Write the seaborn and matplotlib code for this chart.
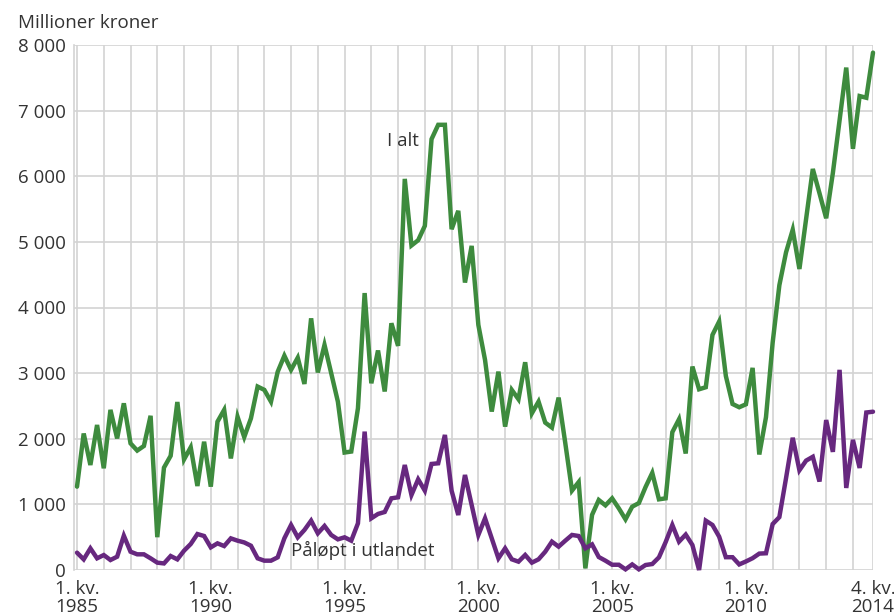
import matplotlib
matplotlib.use("Agg")
import matplotlib.pyplot as plt
import numpy as np
import pandas as pd
import seaborn as sns
from matplotlib.ticker import FixedLocator, FuncFormatter

# Quarterly values 1985 Q1 .. 2014 Q4 (million NOK)
i_alt = [
    1270, 2080, 1600, 2210, 1550, 2440, 2005, 2540, 1930, 1820,
    1890, 2350, 500, 1560, 1740, 2560, 1685, 1870, 1280, 1955,
    1270, 2260, 2440, 1700, 2335, 2025, 2310, 2795, 2745, 2565,
    3020, 3265, 3050, 3235, 2835, 3835, 3010, 3430, 3000, 2565,
    1790, 1805, 2465, 4220, 2845, 3345, 2720, 3760, 3415, 5960,
    4945, 5025, 5244, 6565, 6784, 6784, 5193, 5473, 4380, 4939,
    3735, 3201, 2414, 3023, 2185, 2744, 2602, 3166, 2388, 2566,
    2246, 2170, 2627, 1931, 1210, 1340, 25, 840, 1067, 985,
    1092, 940, 772, 965, 1020, 1265, 1480, 1077, 1092, 2100,
    2297, 1775, 3100, 2754, 2785, 3582, 3786, 2957, 2530, 2480,
    2525, 3080, 1760, 2328, 3466, 4339, 4841, 5185, 4587, 5350,
    6111, 5741, 5360, 6050, 6850, 7656, 6418, 7222, 7196, 7884,
]
palopt = [
    264, 162, 330, 178, 228, 152, 203, 523, 279, 239,
    239, 178, 112, 100, 213, 162, 294, 396, 548, 518,
    345, 406, 365, 482, 447, 420, 370, 178, 142, 142,
    193, 483, 686, 498, 610, 752, 559, 671, 534, 467,
    498, 447, 711, 2109, 788, 854, 884, 1092, 1108, 1600,
    1143, 1382, 1209, 1616, 1626, 2058, 1209, 838, 1448, 991,
    534, 788, 483, 178, 330, 163, 127, 229, 112, 163,
    279, 432, 356, 447, 534, 518, 330, 390, 198, 142,
    80, 80, 10, 85, 10, 76, 91, 193, 425, 686,
    432, 540, 381, 0, 752, 686, 508, 195, 195, 85,
    130, 180, 250, 255, 700, 806, 1400, 2015, 1520, 1667,
    1725, 1348, 2285, 1800, 3050, 1250, 1983, 1555, 2400, 2412,
]
series_names = ["I alt", "Påløpt i utlandet"]
tick_labels = ["1. kv.\n1985", "1. kv.\n1990", "1. kv.\n1995", "1. kv.\n2000",
               "1. kv.\n2005", "1. kv.\n2010", "4. kv.\n2014"]
y_ticks = [0, 1000, 2000, 3000, 4000, 5000, 6000, 7000, 8000]

n = len(i_alt)
quarters = list(range(n))
tick_pos = [0, 20, 40, 60, 80, 100, n - 1]
grid_pos = list(range(0, n, 4)) + [n - 1]

df = pd.DataFrame({
    "kvartal": quarters * 2,
    "verdi": i_alt + palopt,
    "serie": [series_names[0]] * n + [series_names[1]] * n,
})

sns.set_theme(style="white")
plt.rcParams['font.family'] = ['Open Sans', 'DejaVu Sans']

green = "#3e8b3e"
purple = "#67287f"
text_col = "#333333"
grid_col = "#d3d3d3"
fs = 13.5

fig = plt.figure(figsize=(8.94, 6.13), dpi=100)
ax = fig.add_axes([74 / 894, 43 / 613, (873 - 74) / 894, (570 - 45) / 613])

sns.lineplot(data=df, x="kvartal", y="verdi", hue="serie",
             palette={series_names[0]: green, series_names[1]: purple},
             linewidth=3.2, legend=False, ax=ax, zorder=3)
for ln in ax.lines:
    ln.set_clip_on(False)
    ln.set_solid_joinstyle("miter")

ax.set_xlim(-0.45, n - 1)
ax.set_ylim(0, 8000)

ax.set_xticks(tick_pos)
ax.set_xticklabels(tick_labels)
ax.xaxis.set_minor_locator(FixedLocator(grid_pos))
ax.set_yticks(y_ticks)
ax.yaxis.set_major_formatter(FuncFormatter(lambda v, p: f"{int(v):,}".replace(",", " ")))

ax.grid(True, which="major", axis="y", color=grid_col, linewidth=1.2)
ax.grid(True, which="minor", axis="x", color=grid_col, linewidth=1.2)
ax.grid(True, which="major", axis="x", color=grid_col, linewidth=1.2)
ax.set_axisbelow(True)

for s in ["top", "right", "bottom"]:
    ax.spines[s].set_visible(False)
ax.spines["left"].set_color(grid_col)
ax.spines["left"].set_linewidth(1.2)

ax.tick_params(axis="both", which="both", length=0, labelsize=fs, labelcolor=text_col)
ax.tick_params(axis="y", pad=6)
ax.tick_params(axis="x", pad=7)
for lbl in ax.get_xticklabels():
    lbl.set_linespacing(1.05)

ax.set_xlabel("")
ax.set_ylabel("")

fig.text(18 / 894, 1 - 28 / 613, "Millioner kroner", fontsize=fs, color=text_col,
         ha="left", va="baseline")

ax.text(48.7, 6540, "I alt", fontsize=fs, color=text_col, ha="center", va="center")
ax.text(42.75, 290, "Påløpt i utlandet", fontsize=fs, color=text_col, ha="center", va="center")

fig.savefig("out.png", dpi=100)
